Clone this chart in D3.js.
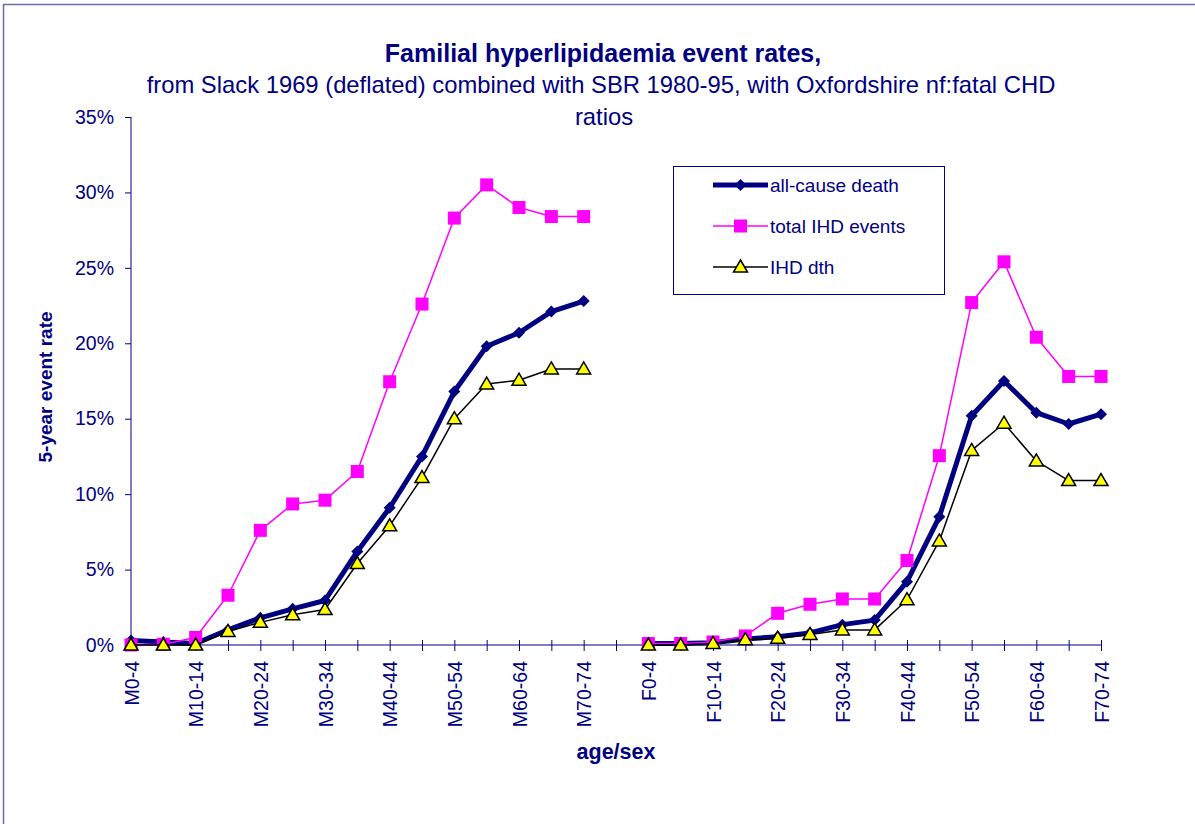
<!DOCTYPE html>
<html>
<head>
<meta charset="utf-8">
<script src="https://cdn.jsdelivr.net/npm/d3@7"></script>
<style>
  body { margin: 0; background: #fff; }
  text { font-family: "Liberation Sans", Arial, sans-serif; fill: #000080; }
</style>
</head>
<body>
<div id="chart"></div>
<script>
var canWidth = 1195;
var canHeight = 824;

// categories: male, a blank gap, then female
var ageBands = ["0-4", "5-9", "10-14", "15-19", "20-24", "25-29", "30-34", "35-39",
                "40-44", "45-49", "50-54", "55-59", "60-64", "65-69", "70-74"];
var categories = ageBands.map(function (a) { return "M" + a; })
    .concat([""])
    .concat(ageBands.map(function (a) { return "F" + a; }));

var allCause = [0.3, 0.2, 0.1, 1.0, 1.8, 2.4, 2.95, 6.2, 9.1, 12.5, 16.8, 19.8, 20.7, 22.1, 22.8,
                null,
                0.1, 0.1, 0.15, 0.4, 0.55, 0.8, 1.35, 1.65, 4.2, 8.5, 15.2, 17.5, 15.4, 14.65, 15.3];
var totalIHD = [0.0, 0.05, 0.5, 3.3, 7.6, 9.35, 9.6, 11.5, 17.45, 22.6, 28.3, 30.5, 29.0, 28.4, 28.4,
                null,
                0.1, 0.1, 0.2, 0.6, 2.1, 2.7, 3.05, 3.05, 5.6, 12.55, 22.7, 25.4, 20.4, 17.8, 17.8];
var ihdDth   = [0.0, 0.0, 0.0, 0.9, 1.5, 2.0, 2.35, 5.4, 7.9, 11.1, 15.0, 17.3, 17.55, 18.3, 18.3,
                null,
                0.0, 0.0, 0.1, 0.35, 0.45, 0.7, 1.0, 1.0, 3.0, 6.9, 12.9, 14.7, 12.2, 10.9, 10.9];

var yTicks = [0, 5, 10, 15, 20, 25, 30, 35];

var series = [
    { "name": "all-cause death",  "values": allCause, "color": "#000080", "width": 5,   "marker": "diamond" },
    { "name": "total IHD events", "values": totalIHD, "color": "#ff00ff", "width": 1.5, "marker": "square" },
    { "name": "IHD dth",          "values": ihdDth,   "color": "#000000", "width": 1.5, "marker": "triangle" }
];

var plotLeft = 131, plotRight = 1101, plotTop = 117, plotBottom = 645;
var font_size = 19.5;

var x = d3.scalePoint().domain(d3.range(categories.length)).range([plotLeft, plotRight]);
var y = d3.scaleLinear().domain([0, 35]).range([plotBottom, plotTop]);

var svg = d3.select("#chart").append("svg")
    .attr("width", canWidth)
    .attr("height", canHeight);

// outer chart frame
svg.append("path")
    .attr("d", "M3.5," + canHeight + "L3.5,4.5L" + canWidth + ",4.5")
    .attr("stroke", "#6b6bb0")
    .attr("stroke-width", 1.5)
    .attr("fill", "none");

// titles
svg.append("text")
    .attr("x", 603).attr("y", 62)
    .attr("text-anchor", "middle")
    .attr("font-size", 25)
    .attr("font-weight", "bold")
    .text("Familial hyperlipidaemia event rates,");
svg.append("text")
    .attr("x", 601).attr("y", 93)
    .attr("text-anchor", "middle")
    .attr("font-size", 23.8)
    .text("from Slack 1969 (deflated) combined with SBR 1980-95, with Oxfordshire nf:fatal CHD");
svg.append("text")
    .attr("x", 604).attr("y", 125)
    .attr("text-anchor", "middle")
    .attr("font-size", 23.8)
    .text("ratios");

// y axis
var yAxis = d3.axisLeft(y)
    .tickValues(yTicks)
    .tickSize(6)
    .tickPadding(11)
    .tickFormat(function (d) { return d + "%"; });
var gy = svg.append("g")
    .attr("transform", "translate(" + plotLeft + ",0)")
    .call(yAxis);
gy.select(".domain").attr("stroke", "#000080").attr("d", "M0," + plotTop + "V" + plotBottom);
gy.selectAll(".tick line").attr("stroke", "#000080");
gy.selectAll(".tick text").attr("font-size", font_size).attr("fill", "#000080")
    .attr("font-family", "Liberation Sans, Arial, sans-serif");

// x axis, ticks crossing the line
var xAxis = d3.axisBottom(x)
    .tickSize(0)
    .tickFormat(function (i) { return i % 2 == 0 ? categories[i] : ""; });
var gx = svg.append("g")
    .attr("transform", "translate(0," + plotBottom + ")")
    .call(xAxis);
gx.select(".domain").attr("stroke", "#000080").attr("d", "M" + plotLeft + ",0H" + plotRight);
gx.selectAll(".tick line").attr("stroke", "#000080").attr("y1", -5).attr("y2", 6);
gx.selectAll(".tick text")
    .attr("font-size", font_size)
    .attr("fill", "#000080")
    .attr("font-family", "Liberation Sans, Arial, sans-serif")
    .attr("text-anchor", "end")
    .attr("dy", null)
    .attr("dominant-baseline", "central")
    .attr("transform", "translate(0,16) rotate(-90)")
    .attr("x", 0).attr("y", 0);

// axis titles
svg.append("text")
    .attr("transform", "translate(52,387) rotate(-90)")
    .attr("text-anchor", "middle")
    .attr("font-size", 19)
    .attr("font-weight", "bold")
    .text("5-year event rate");
svg.append("text")
    .attr("x", 616).attr("y", 759)
    .attr("text-anchor", "middle")
    .attr("font-size", 21.5)
    .attr("font-weight", "bold")
    .text("age/sex");

function drawMarker(g, kind, cx, cy) {
    if (kind == "diamond") {
        g.append("path")
            .attr("d", "M" + cx + "," + (cy - 6) + "L" + (cx + 6) + "," + cy + "L" + cx + "," + (cy + 6) + "L" + (cx - 6) + "," + cy + "Z")
            .attr("fill", "#000080");
    } else if (kind == "square") {
        g.append("rect")
            .attr("x", cx - 6.5).attr("y", cy - 6.5)
            .attr("width", 13).attr("height", 13)
            .attr("fill", "#ff00ff");
    } else {
        g.append("path")
            .attr("d", "M" + cx + "," + (cy - 7) + "L" + (cx + 7) + "," + (cy + 5) + "L" + (cx - 7) + "," + (cy + 5) + "Z")
            .attr("fill", "#ffff00")
            .attr("stroke", "#000000")
            .attr("stroke-width", 1.5)
            .attr("stroke-linejoin", "miter");
    }
}

var line = d3.line()
    .defined(function (d) { return d != null; })
    .x(function (d, i) { return x(i); })
    .y(function (d) { return y(d); });

series.forEach(function (s) {
    var g = svg.append("g");
    g.append("path")
        .datum(s.values)
        .attr("d", line)
        .attr("fill", "none")
        .attr("stroke", s.color)
        .attr("stroke-width", s.width)
        .attr("stroke-linejoin", "round");
    s.values.forEach(function (v, i) {
        if (v != null) drawMarker(g, s.marker, x(i), y(v));
    });
});

// legend
var legend = svg.append("g").attr("transform", "translate(673,166)");
legend.append("rect")
    .attr("x", 0.5).attr("y", 0.5)
    .attr("width", 271).attr("height", 128)
    .attr("fill", "white")
    .attr("stroke", "#000080")
    .attr("stroke-width", 1);
series.forEach(function (s, i) {
    var ly = 19 + i * 41;
    legend.append("line")
        .attr("x1", 40).attr("x2", 95)
        .attr("y1", ly).attr("y2", ly)
        .attr("stroke", s.color)
        .attr("stroke-width", s.width);
    drawMarker(legend, s.marker, 67.5, ly);
    legend.append("text")
        .attr("x", 97).attr("y", ly)
        .attr("dominant-baseline", "central")
        .attr("font-size", 19)
        .text(s.name);
});
</script>
</body>
</html>
